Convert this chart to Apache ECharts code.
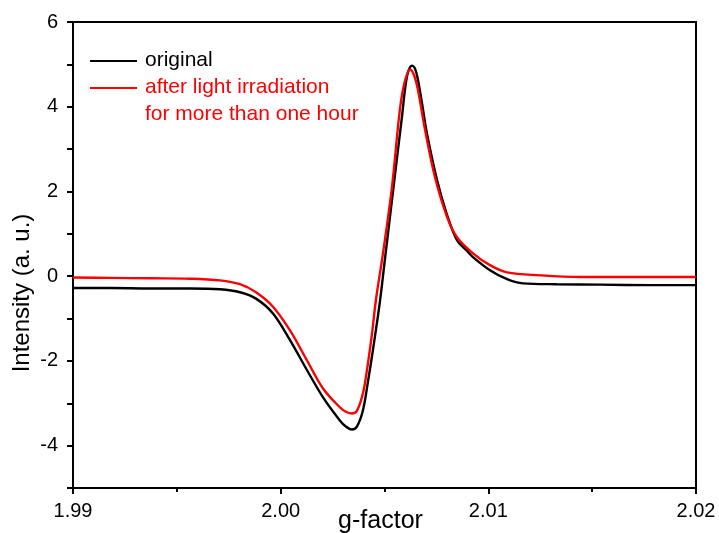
<!DOCTYPE html>
<html>
<head>
<meta charset="utf-8">
<script src="https://cdn.jsdelivr.net/npm/echarts@6/dist/echarts.min.js"></script>
<style>
html,body{margin:0;padding:0;background:#fff;}
#chart{width:719px;height:533px;}
</style>
</head>
<body>
<div id="chart"></div>
<script>
// g-factor values and intensities (a. u.)
const gOriginal = [1.9900, 1.99178, 1.99371, 1.99563, 1.99708, 1.99804, 1.99881, 1.99963, 2.00045, 2.00127, 2.00204, 2.00286, 2.00314, 2.00343, 2.00367, 2.00396, 2.00420, 2.00444, 2.00478, 2.00502, 2.00541, 2.00584, 2.00608, 2.00632, 2.00647, 2.00661, 2.00680, 2.00704, 2.00753, 2.00801, 2.00849, 2.00897, 2.00926, 2.01008, 2.01090, 2.01167, 2.01330, 2.01537, 2.01778, 2.0200];
const iOriginal = [-0.28, -0.28, -0.29, -0.29, -0.31, -0.38, -0.53, -0.88, -1.51, -2.22, -2.86, -3.41, -3.55, -3.62, -3.55, -3.17, -2.50, -1.75, -0.60, 0.40, 2.00, 3.76, 4.71, 4.97, 4.90, 4.64, 4.10, 3.38, 2.27, 1.45, 0.85, 0.60, 0.45, 0.14, -0.07, -0.17, -0.19, -0.20, -0.21, -0.21];

const gIrradiated = [1.9900, 1.99178, 1.99371, 1.99563, 1.99708, 1.99804, 1.99881, 1.99963, 2.00045, 2.00127, 2.00204, 2.00286, 2.00314, 2.00343, 2.00367, 2.00396, 2.00416, 2.00440, 2.00459, 2.00493, 2.00536, 2.00574, 2.00598, 2.00623, 2.00642, 2.00661, 2.00695, 2.00743, 2.00801, 2.00849, 2.00926, 2.01008, 2.01090, 2.01248, 2.01441, 2.0200];
const iIrradiated = [-0.03, -0.04, -0.05, -0.06, -0.10, -0.19, -0.38, -0.72, -1.28, -1.99, -2.65, -3.10, -3.20, -3.24, -3.18, -2.77, -2.20, -1.35, -0.55, 0.55, 2.10, 3.93, 4.60, 4.88, 4.75, 4.40, 3.46, 2.34, 1.40, 0.92, 0.54, 0.26, 0.09, 0.02, -0.02, -0.02];

const xTicks = [1.99, 2.00, 2.01, 2.02];
const yTicks = [-4, -2, 0, 2, 4, 6];
const seriesNames = ['original', 'after light irradiation', 'for more than one hour'];
const axisNames = ['g-factor', 'Intensity (a. u.)'];

const FONT = 'Liberation Sans, Arial, sans-serif';
const zip = (a, b) => a.map((v, i) => [v, b[i]]);

const chart = echarts.init(document.getElementById('chart'), null, {renderer: 'canvas'});
const axisLine = {show: true, onZero: false, lineStyle: {color: '#000', width: 2}};
chart.setOption({
  backgroundColor: '#fff',
  animation: false,
  grid: {left: 73, right: 23, top: 22, bottom: 45, containLabel: false, outerBoundsMode: 'none'},
  xAxis: [{
    type: 'value', min: 1.99, max: 2.02, interval: 0.01,
    axisLine: axisLine,
    axisTick: {show: true, length: 6, lineStyle: {width: 2}},
    minorTick: {show: true, splitNumber: 2, length: 4, lineStyle: {color: '#000', width: 2}},
    splitLine: {show: false},
    axisLabel: {color: '#000', fontSize: 20, fontFamily: FONT, margin: 13,
      formatter: v => { const t = xTicks.find(k => Math.abs(k - v) < 1e-6); return t !== undefined ? t.toFixed(2) : ''; }},
    name: axisNames[0], nameLocation: 'middle', nameGap: 21, nameMoveOverlap: false,
    nameTextStyle: {color: '#000', fontSize: 25, fontFamily: FONT, padding: [0, 8, 0, 0]}
  }, {
    type: 'value', position: 'top', min: 1.99, max: 2.02,
    axisLine: axisLine, axisTick: {show: false}, axisLabel: {show: false}, splitLine: {show: false}
  }],
  yAxis: [{
    type: 'value', min: -5, max: 6, interval: 1,
    axisLine: axisLine,
    axisTick: {show: true, length: 6, lineStyle: {width: 2}},
    splitLine: {show: false},
    axisLabel: {color: '#000', fontSize: 20, fontFamily: FONT, margin: 15,
      formatter: v => yTicks.includes(v) ? String(v) : ''}
  }, {
    type: 'value', position: 'right', min: -5, max: 6,
    axisLine: axisLine, axisTick: {show: false}, axisLabel: {show: false}, splitLine: {show: false}
  }],
  series: [{
    name: seriesNames[0], type: 'line', showSymbol: false, smooth: 0.35,
    lineStyle: {color: '#000', width: 2.4}, itemStyle: {color: '#000'},
    data: zip(gOriginal, iOriginal), z: 3
  }, {
    name: seriesNames[1], type: 'line', showSymbol: false, smooth: 0.35,
    lineStyle: {color: '#ff0000', width: 2.4}, itemStyle: {color: '#ff0000'},
    data: zip(gIrradiated, iIrradiated), z: 4
  }],
  graphic: [
    {type: 'line', shape: {x1: 90, y1: 61, x2: 137, y2: 61}, style: {stroke: '#000', lineWidth: 2.2}},
    {type: 'text', left: 145, top: 50, style: {text: seriesNames[0], fill: '#000', font: '21px ' + FONT}},
    {type: 'line', shape: {x1: 90, y1: 88, x2: 137, y2: 88}, style: {stroke: '#ff0000', lineWidth: 2.2}},
    {type: 'text', left: 145, top: 77, style: {text: seriesNames[1], fill: '#ff0000', font: '21px ' + FONT}},
    {type: 'text', left: 145, top: 104, style: {text: seriesNames[2], fill: '#ff0000', font: '21px ' + FONT}},
    {type: 'text', x: 22, y: 293, rotation: Math.PI / 2,
      style: {text: axisNames[1], fill: '#000', font: '24px ' + FONT, align: 'center', verticalAlign: 'middle'}}
  ]
});
</script>
</body>
</html>
